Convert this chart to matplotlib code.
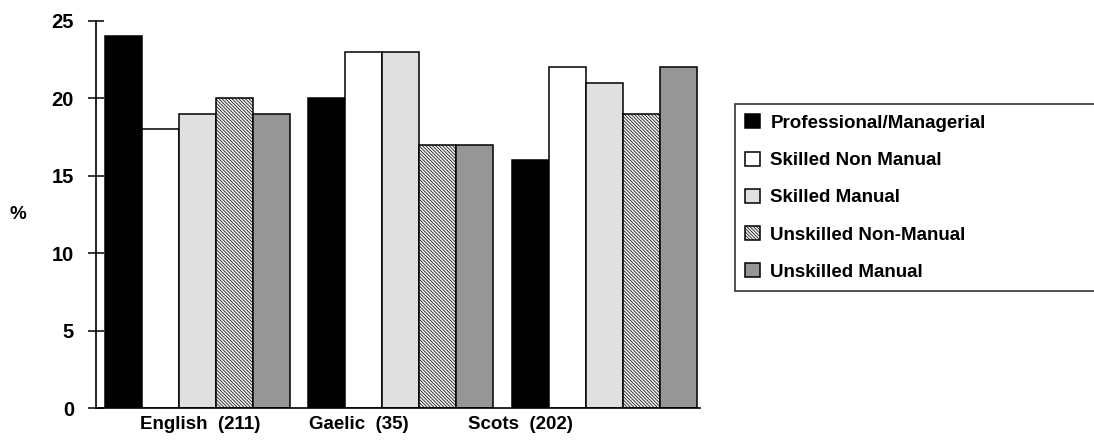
import numpy as np
import matplotlib
matplotlib.use("Agg")
import matplotlib.pyplot as plt

groups = ["English  (211)", "Gaelic  (35)", "Scots  (202)"]
classes = ["Professional/Managerial", "Skilled Non Manual", "Skilled Manual",
           "Unskilled Non-Manual", "Unskilled Manual"]

professional = [24, 20, 16]
skilled_non_manual = [18, 23, 22]
skilled_manual = [19, 23, 21]
unskilled_non_manual = [20, 17, 19]
unskilled_manual = [19, 17, 22]

series = [professional, skilled_non_manual, skilled_manual,
          unskilled_non_manual, unskilled_manual]
fills = ["black", "white", "#e0e0e0", "#f0f0f0", "#969696"]
hatches = [None, None, None, "\\" * 10, None]

plt.rcParams["font.family"] = ["Liberation Sans", "DejaVu Sans"]
plt.rcParams["font.weight"] = "bold"
plt.rcParams["hatch.linewidth"] = 0.5

fig = plt.figure(figsize=(10.94, 4.41), dpi=100)
ax = fig.add_axes([96 / 1094, 33 / 441, 604 / 1094, 387 / 441])

group_step = 5.5
starts = np.arange(len(groups)) * group_step
for i, vals in enumerate(series):
    ax.bar(starts + i, vals, width=1.0, align="edge", color=fills[i],
           edgecolor="black", linewidth=1.1, hatch=hatches[i],
           label=classes[i], zorder=2)

ax.set_xlim(-0.24, 16.08)
ax.set_ylim(0, 25)
ax.set_yticks(range(0, 26, 5))
ax.tick_params(axis="y", direction="inout", length=11.5, width=1.1,
               labelsize=14.5, pad=10)
for t in ax.get_yticklabels():
    t.set_fontweight("bold")

# group captions sit a little left of the bar groups
label_x = [2.57, 6.86, 11.24]
ax.set_xticks(label_x)
ax.set_xticklabels(groups, fontsize=13.5, fontweight="bold")
ax.tick_params(axis="x", length=0, pad=6)

for side in ("top", "right"):
    ax.spines[side].set_visible(False)
for side in ("left", "bottom"):
    ax.spines[side].set_linewidth(1.2)

ax.set_ylabel("%", rotation=0, fontsize=13.5, fontweight="bold",
              va="center", labelpad=0)
ax.yaxis.set_label_coords(-0.13, 0.5)

leg = fig.legend(loc="upper left", bbox_to_anchor=(735 / 1094, 1 - 104 / 441, 0.36, 0.0),
                 mode="expand", frameon=True, fancybox=False, borderaxespad=0,
                 prop={"size": 13.5, "weight": "bold"}, handlelength=0.78,
                 handleheight=0.78, handletextpad=0.55, borderpad=0.55,
                 labelspacing=1.05)
leg.get_frame().set_edgecolor("black")
leg.get_frame().set_linewidth(1.2)

fig.savefig("out.png", dpi=100)
